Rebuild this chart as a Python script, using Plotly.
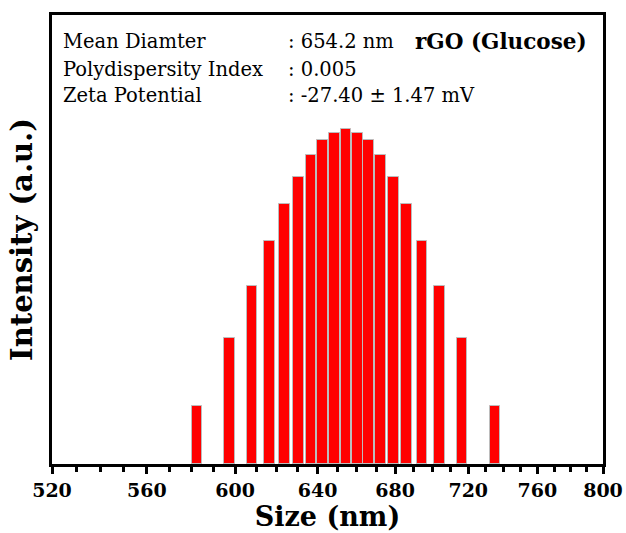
import numpy as np
import plotly.graph_objects as go

# Data
size_nm = [582.4, 597.5, 608.1, 616.5, 623.7, 630.4, 636.8, 642.6, 648.5, 654.3,
           660.3, 666.1, 672.4, 679.1, 686.2, 694.4, 704.1, 716.5, 735.2]
intensity = [17.4, 37.6, 53.2, 66.6, 77.7, 85.6, 92.3, 96.7, 98.9, 100.0,
             98.9, 96.7, 92.3, 85.6, 77.7, 66.6, 53.2, 37.6, 17.4]
major_ticks = [520, 560, 600, 640, 680, 720, 760, 800]
minor_ticks = [v for v in range(530, 800, 10) if v not in major_ticks]

info_labels = ["Mean Diamter", "Polydispersity Index", "Zeta Potential"]
info_values = [": 654.2 nm", ": 0.005", ": -27.40 \u00b1 1.47 mV"]
sample_label = "rGO (Glucose)"

# constant bar width in log space
logw = 0.0036
widths = [x * (10 ** (logw / 2) - 10 ** (-logw / 2)) for x in size_nm]

fig = go.Figure()
fig.add_trace(go.Bar(
    x=size_nm, y=intensity, width=widths,
    marker=dict(color="#ff0000", line=dict(color="#bcbcbc", width=1)),
))

serif = "DejaVu Serif"
fig.update_layout(
    width=626, height=533,
    margin=dict(l=52, r=23, t=15, b=69),
    paper_bgcolor="white", plot_bgcolor="white",
    showlegend=False,
    bargap=0,
    xaxis=dict(
        type="log", automargin=False,
        range=[np.log10(520), np.log10(800)],
        tickmode="array", tickvals=major_ticks,
        ticktext=[str(v) for v in major_ticks],
        ticks="outside", ticklen=7, tickwidth=3, tickcolor="black",
        showline=True, linecolor="black", linewidth=3, mirror=True,
        showgrid=False, zeroline=False,
        tickfont=dict(family=serif, size=19, color="black", weight="bold"),
        minor=dict(tickmode="array", tickvals=minor_ticks, ticks="outside",
                   ticklen=5, tickwidth=2.5, tickcolor="black", showgrid=False),
        title=dict(text="<b>Size (nm)</b>", font=dict(family=serif, size=27, color="black"),
                   standoff=7),
    ),
    yaxis=dict(
        range=[0, 134], automargin=False,
        showticklabels=False, ticks="",
        showline=True, linecolor="black", linewidth=3, mirror=True,
        showgrid=False, zeroline=False,
        title=dict(text="<b>Intensity (a.u.)</b>", font=dict(family=serif, size=29, color="black"),
                   standoff=8),
    ),
)

ys = [0.94, 0.879, 0.821]
for lab, val, y in zip(info_labels, info_values, ys):
    fig.add_annotation(x=0.016, y=y, xref="paper", yref="paper", text=lab,
                       showarrow=False, xanchor="left", yanchor="middle",
                       font=dict(family=serif, size=19.5, color="black"))
    fig.add_annotation(x=0.424, y=y, xref="paper", yref="paper", text=val,
                       showarrow=False, xanchor="left", yanchor="middle",
                       font=dict(family=serif, size=19.5, color="black"))
fig.add_annotation(x=0.656, y=ys[0], xref="paper", yref="paper", text="<b>" + sample_label + "</b>",
                   showarrow=False, xanchor="left", yanchor="middle",
                   font=dict(family=serif, size=21.5, color="black"))

fig.write_html("out.html")
